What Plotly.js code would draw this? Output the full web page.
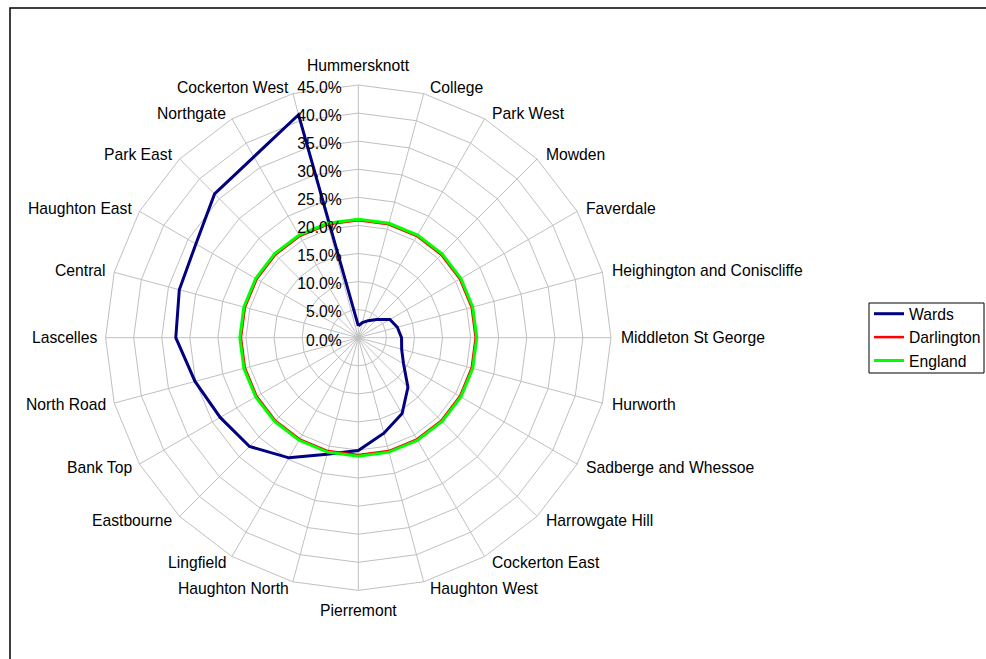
<!DOCTYPE html>
<html>
<head>
<meta charset="utf-8">
<script src="https://cdn.plot.ly/plotly-3.0.1.min.js"></script>
<style>
html,body{margin:0;padding:0;background:#fff;}
#chart{width:986px;height:659px;}
</style>
</head>
<body>
<div id="chart"></div>
<script>
var categories = ["Hummersknott","College","Park West","Mowden","Faverdale","Heighington and Coniscliffe","Middleton St George","Hurworth","Sadberge and Whessoe","Harrowgate Hill","Cockerton East","Haughton West","Pierremont","Haughton North","Lingfield","Eastbourne","Bank Top","North Road","Lascelles","Central","Haughton East","Park East","Northgate","Cockerton West"];
var wards = [0.021,0.028,0.035,0.046,0.065,0.072,0.077,0.080,0.093,0.125,0.156,0.176,0.201,0.215,0.247,0.274,0.284,0.301,0.325,0.330,0.334,0.362,0.372,0.411];
var darlington = [0.209,0.209,0.209,0.209,0.209,0.209,0.209,0.209,0.209,0.209,0.209,0.209,0.209,0.209,0.209,0.209,0.209,0.209,0.209,0.209,0.209,0.209,0.209,0.209];
var england = [0.211,0.211,0.211,0.211,0.211,0.211,0.211,0.211,0.211,0.211,0.211,0.211,0.211,0.211,0.211,0.211,0.211,0.211,0.211,0.211,0.211,0.211,0.211,0.211];
var seriesNames = ["Wards","Darlington","England"];
var radialTicks = [0,0.05,0.10,0.15,0.20,0.25,0.30,0.35,0.40,0.45];

function closed(a){ return a.concat([a[0]]); }
var theta = closed(categories);

var W = 986, H = 659;
var cx = 358.3, cy = 337.7, R = 252.7;
var FS = 15.7;

var traces = [
  {type:'scatterpolar', mode:'lines', name:seriesNames[0], r:closed(wards), theta:theta, line:{color:'#000080', width:3}, hoverinfo:'skip'},
  {type:'scatterpolar', mode:'lines', name:seriesNames[1], r:closed(darlington), theta:theta, line:{color:'#FF0000', width:2.5}, hoverinfo:'skip'},
  {type:'scatterpolar', mode:'lines', name:seriesNames[2], r:closed(england), theta:theta, line:{color:'#00FF00', width:3}, hoverinfo:'skip'}
];

// category labels placed Excel-style just outside each spoke end
var labelAnnotations = categories.map(function(c, i){
  var th = i * 2 * Math.PI / categories.length;
  var s = Math.sin(th), co = Math.cos(th);
  var vx = cx + R * s, vy = cy - R * co;
  var anchor, x, y;
  if (Math.abs(s) < 1e-6) {
    anchor = 'center'; x = vx; y = vy + (co > 0 ? -20 : 20);
  } else {
    var gap = 3 + 5 * Math.abs(s);
    if (s < 0) gap -= 2;
    anchor = s > 0 ? 'left' : 'right';
    x = vx + (s > 0 ? gap : -gap);
    y = vy - 6.5 * co;
  }
  return {text: c, xref: 'paper', yref: 'paper', x: x / W, y: 1 - y / H,
          xanchor: anchor, yanchor: 'middle', showarrow: false,
          font: {size: FS, color: '#000'}};
});

var layout = {
  width: W, height: H,
  margin: {l:0, r:0, t:0, b:0},
  paper_bgcolor: '#ffffff',
  font: {family: 'Arial, "Liberation Sans", sans-serif', size: FS, color: '#000'},
  showlegend: true,
  legend: {
    x: 869/W, y: 1 - 297/H, xanchor: 'left', yanchor: 'top',
    borderwidth: 0, bgcolor: 'rgba(0,0,0,0)',
    font: {size: FS}, itemwidth: 30, tracegroupgap: 0
  },
  polar: {
    domain: {x: [(cx - R)/W, (cx + R)/W], y: [1 - (cy + R)/H, 1 - (cy - R)/H]},
    bgcolor: '#ffffff',
    gridshape: 'linear',
    angularaxis: {
      type: 'category', categoryarray: categories, categoryorder: 'array',
      direction: 'clockwise', rotation: 90,
      showgrid: true, gridcolor: '#C0C0C0', gridwidth: 1,
      showline: true, linecolor: '#C0C0C0', linewidth: 1,
      ticks: '', showticklabels: false
    },
    radialaxis: {
      range: [0, 0.45], tickvals: radialTicks, tickformat: '.1%',
      angle: 90, side: 'counterclockwise',
      showgrid: true, gridcolor: '#C0C0C0', gridwidth: 1,
      showline: false, ticks: 'outside', ticklen: 2, tickcolor: 'rgba(0,0,0,0)',
      tickfont: {size: FS}
    }
  },
  annotations: labelAnnotations,
  shapes: [
    {type:'rect', xref:'paper', yref:'paper', x0: 10/W, x1: 1.02, y0: -0.02, y1: 1 - 8/H, line:{color:'#000', width:1.5}, fillcolor:'rgba(0,0,0,0)', layer:'below'},
    {type:'rect', xref:'paper', yref:'paper', x0: 869/W, x1: 984/W, y0: 1 - 373/H, y1: 1 - 303/H, line:{color:'#000', width:1}, fillcolor:'#ffffff', layer:'below'}
  ]
};

Plotly.newPlot('chart', traces, layout, {staticPlot: true, displayModeBar: false});
</script>
</body>
</html>
